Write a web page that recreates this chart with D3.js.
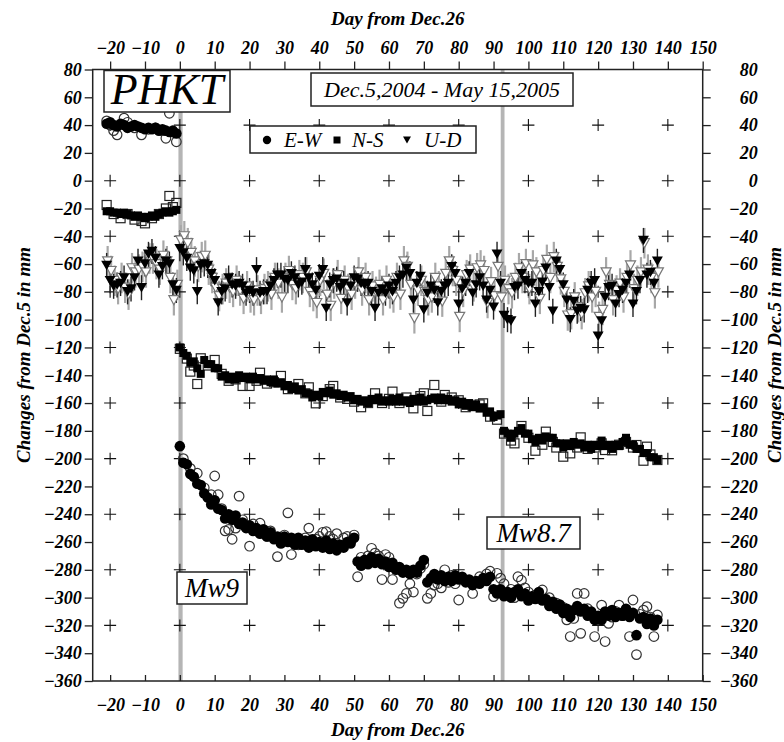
<!DOCTYPE html>
<html><head><meta charset="utf-8">
<script src="https://cdn.jsdelivr.net/npm/d3@7"></script>
<style>
html,body{margin:0;padding:0;background:#fff;}
svg{display:block;font-family:"Liberation Serif","Times New Roman",serif;}
</style></head><body>
<svg id="chart" width="784" height="742"></svg>
<script>
// ---------------- DATA ----------------
const xTicks = [-20,-10,0,10,20,30,40,50,60,70,80,90,100,110,120,130,140,150];
const yTicks = [80,60,40,20,0,-20,-40,-60,-80,-100,-120,-140,-160,-180,-200,-220,-240,-260,-280,-300,-320,-340,-360];
const plusDays = [-20,0,20,40,60,80,100,120,140];
const plusMM = [40,0,-40,-80,-120,-160,-200,-240,-280,-320];
const quakeDays = [0.2, 92.6];
const quakeLabels = ["Mw9","Mw8.7"];

const preDays = d3.range(-21, 0);
const postDays = d3.range(0, 138);

// E-W (filled circles)
const ewPre = [41,42,40,39,41,40,38,39,40,39,38,37,38,37,38,36,37,36,35,36,34];
const ewPost = [
-191,-203,-204,-211,-213,-218,-219,-225,-228,-233,
-230,-236,-237,-243,-240,-244,-241,-247,-246,-250,
-248,-252,-250,-254,-251,-256,-253,-258,-256,-261,
-256,-260,-257,-262,-257,-262,-259,-264,-258,-263,
-260,-264,-259,-265,-261,-266,-262,-264,-260,-261,
-257,-274,-277,-273,-276,-271,-275,-272,-276,-274,
-278,-275,-280,-278,-282,-280,-283,-280,-282,-277,
-273,-289,-286,-283,-287,-284,-288,-285,-288,-284,
-287,-285,-289,-287,-291,-288,-290,-286,-288,-285,
-294,-297,-294,-299,-296,-300,-296,-294,-299,-297,
-302,-299,-301,-296,-302,-301,-306,-303,-308,-305,
-311,-308,-314,-309,-306,-310,-308,-313,-310,-316,
-313,-316,-310,-313,-309,-314,-311,-313,-308,-314,
-311,-327,-315,-314,-319,-315,-320,-316];
// E-W (open circles, second solution)
const ewOpenDays = [-21,-20,-19,-18,-16,-15,-13,-11,-9,-7,-5,-4,-3,-2,-1,
1,3,5,7,9,10,11,12,13,14,15,16,17,18,19,20,21,22,23,24,25,26,28,30,31,32,34,36,37,39,40,41,42,43,44,45,47,48,49,50,
51,52,53,54,55,56,57,58,59,60,61,62,63,64,65,66,67,68,69,70,71,72,73,74,75,76,77,78,79,80,82,84,86,88,89,90,91,92,93,95,96,97,98,99,100,
102,104,106,108,110,111,112,113,114,115,116,117,118,119,120,121,122,123,124,125,126,127,128,129,130,131,132,133,134,135,136,137];
const ewOpenVals = [43,40,36,33,45,42,38,33,37,38,36,30.5,48.5,35,28,
-200,-207,-210.5,-221,-226,-212.5,-226,-236,-252,-251,-258,-250,-227,-244,-249,-263,-247,-252,-246.5,-251,-256,-252,-270.5,-255,-239,-269,-262,-257,-250,-258,-256,-253,-252.5,-256,-258,-254,-257,-256,-259,-255,
-285,-271,-273,-270,-264.5,-268,-270,-287,-269,-271,-287,-278,-304,-300.5,-297,-290,-296,-283,-279,-276,-300.5,-297,-291,-290,-293,-280,-289,-284,-290,-301.7,-288,-297,-285,-283,-281,-299.3,-282.5,-286,-290,-294,-300,-285,-287.5,-293,-296,
-298,-294.5,-300,-304,-307,-316,-328,-315,-297,-325.7,-297,-308,-312,-328,-316,-305.4,-331.6,-318.5,-314,-310,-305.4,-313,-311,-328,-301.7,-341,-312,-309,-306.5,-314,-328,-312.5];

// N-S (filled squares)
const nsPre = [-22,-22,-23,-23,-24,-23,-24,-25,-26,-25,-26,-27,-26,-25,-26,-24,-23,-22,-23,-22,-21];
const nsPost = [
-120,-124,-126,-131,-130,-135,-139,-129,-132,-132,
-135,-135,-141,-140,-143,-141,-143,-140,-142,-141,
-143,-141,-143,-142,-144,-143,-145,-143,-146,-145,
-148,-147,-150,-148,-151,-150,-153,-153,-156,-154,
-155,-152,-153,-151,-154,-153,-155,-154,-156,-155,
-158,-157,-159,-158,-160,-157,-158,-156,-159,-158,
-159,-157,-159,-156,-159,-158,-160,-157,-159,-156,
-159,-158,-157,-156,-158,-156,-158,-157,-159,-158,
-161,-159,-162,-160,-163,-161,-164,-163,-167,-166,
-170,-169,-168,-180,-182,-185,-182,-180,-178,-182,
-182,-186,-188,-185,-187,-184,-185,-185,-189,-189,
-192,-189,-191,-188,-190,-189,-192,-190,-193,-190,
-191,-187,-191,-190,-193,-190,-191,-188,-185,-190,
-190,-193,-193,-196,-196,-199,-199,-201];
// N-S (open squares)
const nsOpenDays = [-21,-19,-17,-15,-13,-11,-10,-8,-6,-4,-3,-2,-1,
0,2,3,4,5,6,8,10,12,14,16,18,20,22,23,25,27,29,31,34,36,37,39,41,43,44,46,48,50,52,54,56,58,60,61,63,65,67,69,70,71,73,75,76,78,80,82,84,86,87,89,91,
93,95,96,98,100,102,104,105,107,108,110,112,114,115,117,119,121,122,124,126,128,130,131,133,134,135,137];
const nsOpenVals = [-17.5,-24,-27,-24,-28,-29,-30.7,-27,-24,-20,-11,-19,-16,
-121,-128,-137.4,-133,-146.3,-127.8,-133,-129,-139,-144,-143,-147.7,-147.7,-144,-138.2,-146,-145,-140.5,-150,-146.3,-153,-148.7,-160.2,-155,-150,-147.7,-156,-157,-159,-163,-160,-153,-160,-157,-151.8,-160,-156,-163.8,-155,-153,-165.7,-147,-159,-154.2,-156,-158,-163,-162,-161,-160.2,-169.8,-172,
-182,-187,-189,-176.5,-185,-194.3,-190,-180.6,-188,-192,-198.6,-196.2,-192,-184.7,-193,-192,-189,-193.8,-194,-190,-188,-192,-190.2,-201.5,-191.4,-197,-201];

// U-D (filled triangles)
const udPre = [-61,-72,-76,-75,-74,-70,-80,-78,-70,-58,-77,-60,-53,-51,-56,-68,-62,-58,-60,-75,-79];
const udPost = [
-49,-52,-56,-63,-65,-80,-61,-60,-61,-67,
-72,-88,-80,-78,-70,-75,-76,-74,-76,-81,
-79,-81,-64,-81,-80,-80,-76,-72,-68,-68,
-71,-72,-67,-70,-75,-73,-64,-70,-75,-79,
-69,-64,-92,-75,-72,-71,-77,-74,-88,-76,
-70,-71,-74,-75,-74,-80,-92,-81,-78,-81,
-76,-80,-74,-70,-68,-63,-67,-86,-74,-69,
-93,-81,-76,-79,-88,-80,-76,-74,-62,-67,
-89,-78,-74,-67,-81,-75,-70,-76,-86,-79,
-91,-53,-74,-97,-100,-101,-77,-76,-67,-72,
-74,-74,-89,-80,-73,-63,-77,-94,-58,-64,
-75,-86,-100,-87,-94,-92,-93,-79,-74,-72,
-112,-101,-84,-77,-76,-89,-82,-79,-74,-68,
-89,-80,-72,-43,-68,-66,-74,-58];
// U-D (open triangles)
const udOpenPre = [-58,-65,-72,-78,-70,-77,-82,-63,-66,-64,-62,-66,-56,-56,-60,-64,-54,-58,-70,-86,-75];
const udOpenPost = [
-43,-40,-45,-52,-58,-62,-55,-54,-64,-70,
-77,-83,-78,-74,-77,-80,-72,-79,-85,-76,
-84,-86,-79,-85,-78,-76,-82,-70,-74,-84,
-70,-65,-75,-78,-68,-70,-66,-80,-83,-88,
-72,-67,-82,-90,-74,-68,-85,-72,-78,-82,
-74,-66,-79,-70,-86,-76,-80,-75,-86,-72,
-81,-84,-70,-82,-58,-62,-75,-99,-79,-72,
-80,-86,-84,-70,-76,-87,-67,-58,-65,-72,
-98,-80,-68,-64,-76,-63,-61,-65,-88,-73,
-83,-62,-84,-72,-78,-81,-70,-63,-70,-60,
-78,-61,-66,-85,-65,-57,-70,-55,-62,-71,
-80,-97,-96,-84,-91,-96,-81,-76,-84,-80,
-98,-93,-66,-75,-86,-79,-74,-84,-70,-61,
-78,-72,-66,-45,-64,-70,-81,-66];
const udErrFilled = 9;   // mm, half-length of error bar
const udErrOpen = 11;

const seriesNames = ["E-W","N-S","U-D"];
const stationName = "PHKT";
const periodText = "Dec.5,2004 - May 15,2005";
const xTitle = "Day from Dec.26";
const yTitle = "Changes from Dec.5 in mm";

// ---------------- CHART ----------------
const svg = d3.select("#chart");
const L = 92.7, R = 702.7, T = 69.5, B = 681;
const x = d3.scaleLinear().domain([-25,150]).range([L,R]);
const y = d3.scaleLinear().domain([-360,80]).range([B,T]);

svg.append("rect").attr("width",784).attr("height",742).attr("fill","#fff");

// earthquake lines
svg.selectAll(".quake").data(quakeDays).enter().append("line")
  .attr("x1",d=>x(d)).attr("x2",d=>x(d)).attr("y1",T).attr("y2",B)
  .attr("stroke","#b5b5b5").attr("stroke-width",(d,i)=>i===0?4.2:3.8);

// plus grid
const plusG = svg.append("g");
plusDays.forEach(d=>plusMM.forEach(m=>{
  const cx=x(d), cy=y(m);
  plusG.append("path").attr("d",`M${cx-6},${cy}H${cx+6}M${cx},${cy-6}V${cy+6}`)
    .attr("stroke","#111").attr("stroke-width",1.1).attr("fill","none");
}));

function zip(days, vals){ return days.map((d,i)=>({d, v: vals[i]})); }
const ewF = zip(preDays, ewPre).concat(zip(postDays, ewPost));
const ewO = zip(ewOpenDays, ewOpenVals);
const nsF = zip(preDays, nsPre).concat(zip(postDays, nsPost));
const nsO = zip(nsOpenDays, nsOpenVals);
const udF = zip(preDays, udPre).concat(zip(postDays, udPost));
const udO = zip(preDays, udOpenPre).concat(zip(postDays, udOpenPost));

function triPath(cx, cy, w, h){
  return `M${cx-w/2},${cy-h/2}L${cx+w/2},${cy-h/2}L${cx},${cy+h/2}Z`;
}

const dataG = svg.append("g");
// U-D error bars
dataG.selectAll(".ebo").data(udO).enter().append("line")
  .attr("x1",p=>x(p.d)+1).attr("x2",p=>x(p.d)+1)
  .attr("y1",p=>y(p.v+udErrOpen)).attr("y2",p=>y(p.v-udErrOpen))
  .attr("stroke","#a8a8a8").attr("stroke-width",2.2);
dataG.selectAll(".ebf").data(udF).enter().append("line")
  .attr("x1",p=>x(p.d)).attr("x2",p=>x(p.d))
  .attr("y1",p=>y(p.v+udErrFilled)).attr("y2",p=>y(p.v-udErrFilled))
  .attr("stroke","#222").attr("stroke-width",1.4);
// open triangles
dataG.selectAll(".udo").data(udO).enter().append("path")
  .attr("d",p=>triPath(x(p.d)+1,y(p.v),10,9))
  .attr("fill","#fff").attr("stroke","#777").attr("stroke-width",1.2);
// filled triangles
dataG.selectAll(".udf").data(udF).enter().append("path")
  .attr("d",p=>triPath(x(p.d),y(p.v),11,9.5))
  .attr("fill","#000");

// open squares
dataG.selectAll(".nso").data(nsO).enter().append("rect")
  .attr("x",p=>x(p.d)-4.5).attr("y",p=>y(p.v)-4.5).attr("width",9).attr("height",9)
  .attr("fill","none").attr("stroke","#222").attr("stroke-width",1.2);
// filled squares
dataG.selectAll(".nsf").data(nsF).enter().append("rect")
  .attr("x",p=>x(p.d)-4).attr("y",p=>y(p.v)-4).attr("width",8).attr("height",8)
  .attr("fill","#000");

// open circles
dataG.selectAll(".ewo").data(ewO).enter().append("circle")
  .attr("cx",p=>x(p.d)).attr("cy",p=>y(p.v)).attr("r",4.8)
  .attr("fill","none").attr("stroke","#333").attr("stroke-width",1.2);
// filled circles
dataG.selectAll(".ewf").data(ewF).enter().append("circle")
  .attr("cx",p=>x(p.d)).attr("cy",p=>y(p.v)).attr("r",5.3)
  .attr("fill","#000");

// ---- boxes ----
function box(x0,y0,w,h){
  svg.append("rect").attr("x",x0).attr("y",y0).attr("width",w).attr("height",h)
    .attr("fill","#fff").attr("stroke","#222").attr("stroke-width",1.5);
}
// station
box(104,70.5,126,41.5);
svg.append("text").attr("x",167).attr("y",104).attr("text-anchor","middle")
  .attr("font-style","italic").attr("font-size",44).text(stationName);
// period
box(311,73,262,33);
svg.append("text").attr("x",442).attr("y",97).attr("text-anchor","middle")
  .attr("font-style","italic").attr("font-size",22).text(periodText);
// legend
box(250,126,226,27);
const lg = svg.append("g");
lg.append("circle").attr("cx",267).attr("cy",140).attr("r",4.2).attr("fill","#000");
lg.append("text").attr("x",284).attr("y",147).attr("font-style","italic").attr("font-size",21).text(seriesNames[0]);
lg.append("rect").attr("x",333.5).attr("y",136.5).attr("width",7).attr("height",7).attr("fill","#000");
lg.append("text").attr("x",352).attr("y",147).attr("font-style","italic").attr("font-size",21).text(seriesNames[1]);
lg.append("path").attr("d",triPath(407,140,8,7)).attr("fill","#000");
lg.append("text").attr("x",424).attr("y",147).attr("font-style","italic").attr("font-size",21).text(seriesNames[2]);

// quake labels
box(177,572,70,32);
svg.append("text").attr("x",212).attr("y",597).attr("text-anchor","middle")
  .attr("font-style","italic").attr("font-size",27).text(quakeLabels[0]);
box(487,517,93,32);
svg.append("text").attr("x",533.5).attr("y",542).attr("text-anchor","middle")
  .attr("font-style","italic").attr("font-size",27).text(quakeLabels[1]);

// ---- frame & axes ----
svg.append("rect").attr("x",L).attr("y",T).attr("width",R-L).attr("height",B-T)
  .attr("fill","none").attr("stroke","#222").attr("stroke-width",1.5);

function styleAxis(g){
  g.select(".domain").remove();
  g.selectAll(".tick line").attr("stroke","#222").attr("stroke-width",1.3);
  g.selectAll(".tick text").attr("font-family","'Liberation Serif',serif")
    .attr("font-style","italic").attr("font-weight","bold").attr("font-size",18).attr("fill","#000");
}
const fmt = d3.format("d");
const gTop = svg.append("g").attr("transform",`translate(0,${T})`)
  .call(d3.axisTop(x).tickValues(xTicks).tickFormat(fmt).tickSizeInner(8).tickSizeOuter(0).tickPadding(8));
styleAxis(gTop);
const gBot = svg.append("g").attr("transform",`translate(0,${B})`)
  .call(d3.axisBottom(x).tickValues(xTicks).tickFormat(fmt).tickSizeInner(-6).tickSizeOuter(0).tickPadding(17));
styleAxis(gBot);
const gLeft = svg.append("g").attr("transform",`translate(${L},0)`)
  .call(d3.axisLeft(y).tickValues(yTicks).tickFormat(fmt).tickSizeInner(8).tickSizeOuter(0).tickPadding(3));
styleAxis(gLeft);
const gRight = svg.append("g").attr("transform",`translate(${R},0)`)
  .call(d3.axisRight(y).tickValues(yTicks).tickFormat(fmt).tickSizeInner(8).tickSizeOuter(0).tickPadding(3));
styleAxis(gRight);
gRight.selectAll(".tick text").attr("text-anchor","end").attr("x",55);

// titles
const titleStyle = t => t.attr("font-style","italic").attr("font-weight","bold").attr("font-size",19).attr("text-anchor","middle");
svg.append("text").attr("x",(L+R)/2).attr("y",25).call(titleStyle).text(xTitle);
svg.append("text").attr("x",(L+R)/2).attr("y",736).call(titleStyle).text(xTitle);
svg.append("text").attr("transform",`translate(30,355) rotate(-90)`).call(titleStyle).text(yTitle);
svg.append("text").attr("transform",`translate(781,355) rotate(-90)`).call(titleStyle).text(yTitle);
</script>
</body></html>
